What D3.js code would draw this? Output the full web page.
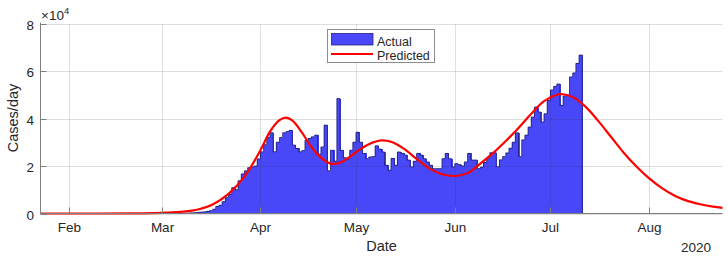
<!DOCTYPE html>
<html><head><meta charset="utf-8">
<script src="https://cdn.jsdelivr.net/npm/d3@7"></script>
<style>
body{margin:0;background:#fff}
svg{display:block}
text{font-family:"Liberation Sans",Arial,Helvetica,sans-serif;fill:#262626}
</style>
</head><body>
<svg id="c" width="728" height="258"></svg>
<script>
// ---- data ----
const actualStart = "2020-03-01";
const actualValues = [
  10, 20, 25, 35, 60, 70, 110, 140, 180, 260,
  350, 450, 550, 700, 900,
  1200, 1800, 3000, 3500, 5000,
  6700, 8100, 10900, 10000, 13800,
  16700, 18000, 19300, 19600, 20000,
  23000, 26000, 29000, 32000, 34000,
  26000, 30000, 32000, 34000, 34500,
  35000, 28800, 27400, 26000, 26500,
  30900, 31600, 32300, 33000, 25000,
  28000, 37200, 18000, 26600, 22000,
  48400, 26600, 23500, 23000, 26600,
  30000, 34200, 30000, 25300, 23100,
  23800, 24000, 28500, 27100, 25900,
  20300, 18200, 23200, 20300, 25900,
  25300, 24600, 22500, 19600, 22000,
  25300, 24600, 23100, 21700, 20300,
  18900, 18900, 18900, 23100, 25300,
  23100, 19600, 21000, 20600, 20000,
  21700, 25300, 22500, 22500, 18900,
  19500, 21500, 23500, 25600, 25600,
  19700, 22600, 24000, 25500, 27500,
  30000, 34000, 24000, 31000, 33000,
  36400, 40600, 44800, 42700, 38500,
  42000, 47700, 52000, 53500, 54500,
  45500, 49500, 50000, 57500, 59200,
  63200, 66700
];
const predDates = [
  "2020-01-23","2020-02-10","2020-02-20","2020-02-27","2020-03-03","2020-03-07",
  "2020-03-10","2020-03-13","2020-03-17","2020-03-22","2020-03-27","2020-04-01",
  "2020-04-04","2020-04-07","2020-04-09","2020-04-11","2020-04-14","2020-04-17",
  "2020-04-20","2020-04-23","2020-04-26","2020-04-29","2020-05-02","2020-05-05",
  "2020-05-09","2020-05-12","2020-05-16","2020-05-20","2020-05-24","2020-05-28",
  "2020-06-01","2020-06-05","2020-06-09","2020-06-13","2020-06-17","2020-06-21",
  "2020-06-25","2020-06-29","2020-07-03","2020-07-05","2020-07-08","2020-07-12",
  "2020-07-16","2020-07-20","2020-07-24","2020-07-28","2020-08-01","2020-08-05",
  "2020-08-09","2020-08-13","2020-08-17","2020-08-21","2020-08-24"
];
const predValues = [
  0, 0, 30, 150, 400, 650,
  1100, 1900, 3800, 8300, 15500, 26600,
  34500, 39300, 40400, 39200, 34200, 28000,
  23500, 21000, 21400, 23800, 26800, 29200,
  30800, 30200, 27300, 23000, 19000, 16500,
  15800, 17000, 21000, 25400, 30500, 36000,
  42000, 47300, 50000, 50200, 49000, 45000,
  39000, 32300, 25600, 19800, 14800, 10700,
  7500, 5300, 3900, 2900, 2400
];
const yTicks = [0, 20000, 40000, 60000, 80000];
const yTickLabels = ["0", "2", "4", "6", "8"];
const xTickDates = ["2020-02-01","2020-03-01","2020-04-01","2020-05-01","2020-06-01","2020-07-01","2020-08-01"];
const xTickLabels = ["Feb","Mar","Apr","May","Jun","Jul","Aug"];
const xDomain = ["2020-01-23","2020-08-24"];
const seriesNames = ["Actual", "Predicted"];

// ---- chart ----
const parse = d3.timeParse("%Y-%m-%d");
const svg = d3.select("#c");
const L = 40.5, R = 722.5, T = 23.5, B = 213.5;
const x = d3.scaleTime().domain(xDomain.map(parse)).range([L, R]);
const y = d3.scaleLinear().domain([0, 80000]).range([B, T]);

const start = parse(actualStart);
const bars = actualValues.map((v, i) => ({d: d3.timeDay.offset(start, i), v}));

const barFill = "rgb(72,72,248)";
const barEdge = "#23237a";

// bars
svg.append("g").attr("shape-rendering", "crispEdges").selectAll("rect").data(bars).join("rect")
  .attr("x", d => x(d.d))
  .attr("width", d => x(d3.timeDay.offset(d.d, 1)) - x(d.d) + 1)
  .attr("y", d => y(d.v))
  .attr("height", d => y(0) - y(d.v))
  .attr("fill", barFill);

// bar outline (step)
const last = bars[bars.length - 1];
const endDay = d3.timeDay.offset(last.d, 1);
const stepPts = [{d: start, v: 0}].concat(bars).concat([{d: endDay, v: last.v}, {d: endDay, v: 0}]);
svg.append("path")
  .attr("d", d3.line().x(d => x(d.d)).y(d => y(d.v)).curve(d3.curveStepAfter)(stepPts))
  .attr("fill", "none").attr("stroke", barEdge).attr("stroke-width", 0.9);

// grid (on top of bars, like MATLAB layer top)
const grid = svg.append("g").attr("stroke", "#262626").attr("stroke-opacity", 0.15).attr("stroke-width", 1);
yTicks.forEach(t => grid.append("line").attr("x1", L).attr("x2", R).attr("y1", Math.round(y(t))+0.5).attr("y2", Math.round(y(t))+0.5));
xTickDates.forEach(t => { const xx = Math.round(x(parse(t)))+0.5;
  grid.append("line").attr("x1", xx).attr("x2", xx).attr("y1", T).attr("y2", B); });

// predicted line
const pred = predDates.map((d, i) => ({d: parse(d), v: predValues[i]}));
svg.append("path")
  .attr("d", d3.line().x(d => x(d.d)).y(d => Math.min(y(d.v), B)).curve(d3.curveCatmullRom.alpha(0.5))(pred))
  .attr("fill", "none").attr("stroke", "#ff0000").attr("stroke-width", 2.2)
  .attr("stroke-linejoin", "round");

// axes
const axc = "#7f7f7f";
svg.append("line").attr("x1", L).attr("x2", L).attr("y1", T-1).attr("y2", B).attr("stroke", axc);
svg.append("line").attr("x1", L).attr("x2", R).attr("y1", B).attr("y2", B).attr("stroke", axc);
yTicks.forEach((t, i) => {
  const yy = Math.round(y(t))+0.5;
  svg.append("line").attr("x1", L).attr("x2", L+6).attr("y1", yy).attr("y2", yy).attr("stroke", axc);
  svg.append("text").attr("x", 34).attr("y", yy + 5).attr("text-anchor", "end")
    .attr("font-size", "13.5px").text(yTickLabels[i]);
});
xTickDates.forEach((t, i) => {
  const xx = Math.round(x(parse(t)))+0.5;
  svg.append("line").attr("x1", xx).attr("x2", xx).attr("y1", B).attr("y2", B-6).attr("stroke", axc);
  svg.append("text").attr("x", xx).attr("y", 232).attr("text-anchor", "middle")
    .attr("font-size", "13.5px").text(xTickLabels[i]);
});

// exponent
const ex = svg.append("text").attr("x", 41).attr("y", 20).attr("font-size", "13.5px");
ex.append("tspan").text("×10");
ex.append("tspan").attr("font-size", "9.5px").attr("dy", -6).text("4");

// labels
svg.append("text").attr("transform", "translate(18,118) rotate(-90)").attr("text-anchor", "middle")
  .attr("font-size", "14.5px").text("Cases/day");
svg.append("text").attr("x", (L+R)/2).attr("y", 251).attr("text-anchor", "middle")
  .attr("font-size", "14.5px").text("Date");
svg.append("text").attr("x", 711).attr("y", 251.5).attr("text-anchor", "end")
  .attr("font-size", "13.5px").text("2020");

// legend
const lg = svg.append("g");
lg.append("rect").attr("x", 327.5).attr("y", 29.5).attr("width", 107).attr("height", 33)
  .attr("fill", "#fff").attr("stroke", "#8c8c8c");
lg.append("rect").attr("x", 331.5).attr("y", 33.5).attr("width", 41.5).attr("height", 11.5)
  .attr("fill", barFill).attr("stroke", barEdge).attr("stroke-width", 0.8);
lg.append("line").attr("x1", 331).attr("x2", 373).attr("y1", 54).attr("y2", 54)
  .attr("stroke", "#ff0000").attr("stroke-width", 2.2);
lg.append("text").attr("x", 377).attr("y", 45.5).attr("font-size", "12.5px").text(seriesNames[0]);
lg.append("text").attr("x", 377).attr("y", 60).attr("font-size", "12.5px").text(seriesNames[1]);
</script>
</body></html>
